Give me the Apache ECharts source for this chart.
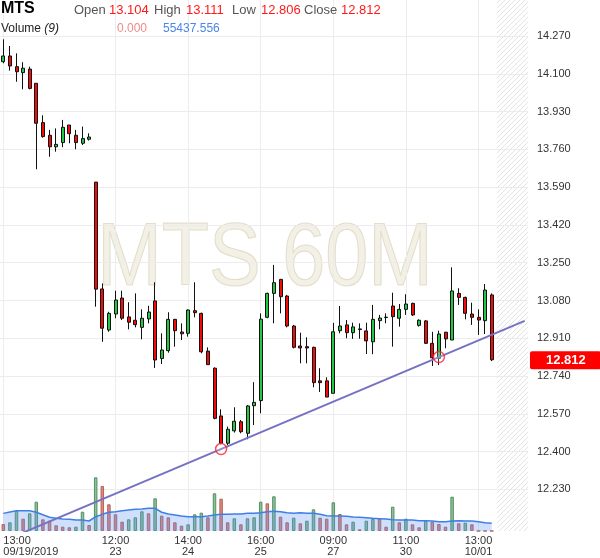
<!DOCTYPE html>
<html><head><meta charset="utf-8">
<script src="https://cdn.jsdelivr.net/npm/echarts@6/dist/echarts.min.js"></script>
<style>html,body{margin:0;padding:0;background:#fff}#c{width:600px;height:558px}</style>
</head><body><div id="c"></div>
<script>
// ---- data ----
const symbolName = 'MTS';
const periodName = '60M';
// trading sessions: [date, first hour, last hour]
const sessions = [['09/19',13,18],['09/20',10,18],['09/23',10,18],['09/24',10,18],['09/25',10,18],['09/26',10,17],['09/27',9,18],['09/30',10,18],['10/01',10,20]];
const tickIdx  = [0, 17, 28, 39, 50, 61, 72];
const tickText = ['13:00\n09/19/2019','12:00\n23','14:00\n24','16:00\n25','09:00\n27','11:00\n30','13:00\n10/01'];
// [open, close, low, high]
const candles = [
[14.154,14.180,14.147,14.255],[14.180,14.135,14.114,14.225],[14.132,14.109,14.064,14.192],[14.105,14.125,14.030,14.152],
[14.121,14.034,14.030,14.132],[14.057,13.877,13.670,14.057],[13.880,13.817,13.812,13.913],[13.823,13.771,13.726,13.847],
[13.771,13.782,13.749,13.854],[13.790,13.859,13.769,13.892],[13.869,13.830,13.787,13.869],[13.823,13.790,13.760,13.847],
[13.787,13.808,13.779,13.862],[13.805,13.815,13.799,13.832],[13.612,13.130,13.051,13.612],[13.131,12.954,12.893,13.156],
[12.946,13.021,12.938,13.028],[13.018,13.081,12.999,13.123],[13.090,12.999,12.991,13.123],[13.005,12.981,12.949,13.071],
[12.990,12.970,12.958,13.111],[12.958,12.999,12.904,13.039],[12.996,13.027,12.976,13.055],[13.077,12.811,12.775,13.161],
[12.818,12.856,12.793,12.931],[12.853,12.994,12.844,13.026],[12.994,12.943,12.871,12.996],[12.937,12.929,12.901,12.976],
[12.931,13.036,12.916,13.039],[13.033,13.024,13.003,13.161],[13.021,12.848,12.841,13.024],[12.851,12.790,12.790,12.868],
[12.774,12.548,12.544,12.778],[12.559,12.436,12.431,12.589],[12.436,12.499,12.428,12.511],[12.492,12.535,12.484,12.598],
[12.533,12.488,12.481,12.541],[12.481,12.604,12.454,12.608],[12.605,12.620,12.518,12.711],[12.628,12.995,12.571,13.021],
[13.003,13.111,12.999,13.114],[13.111,13.159,12.976,13.239],[13.174,13.096,13.021,13.176],[13.099,12.964,12.958,13.104],
[12.964,12.868,12.863,12.969],[12.874,12.865,12.796,12.934],[12.871,12.865,12.796,12.913],[12.868,12.709,12.688,12.871],
[12.717,12.709,12.667,12.774],[12.717,12.644,12.644,12.733],[12.661,12.938,12.661,12.978],[12.943,12.964,12.931,13.054],
[12.969,12.934,12.909,12.991],[12.934,12.960,12.906,12.979],[12.948,12.951,12.907,12.976],[12.942,12.897,12.838,12.979],
[12.893,12.994,12.837,13.059],[12.988,13.000,12.949,13.014],[13.004,13.002,12.976,13.021],[13.054,13.006,12.871,13.114],
[12.999,13.039,12.961,13.063],[13.039,13.063,13.014,13.107],[13.066,13.014,13.009,13.069],[12.967,12.990,12.961,12.994],
[12.987,12.886,12.883,12.991],[12.886,12.821,12.784,12.938],[12.819,12.928,12.788,12.943],[12.936,12.906,12.864,12.938],
[12.901,13.122,12.901,13.228],[13.111,13.093,13.059,13.134],[13.093,13.021,12.994,13.096],[13.018,13.003,12.969,13.069],
[13.003,12.991,12.924,13.039],[12.988,13.126,12.928,13.153],[13.104,12.812,12.806,13.111]];
const lastHigh = 13.111, lastLow = 12.806;
const volume = [50400,62600,146200,88600,127400,211000,84200,74200,41000,31000,26600,31000,139000,43200,386600,324000,
192200,120200,67000,84200,98600,141800,127400,235400,110200,98600,62600,38200,48200,120200,131800,98600,271400,232600,
62600,91400,48200,91400,98600,211000,199400,249800,103000,62600,95800,55400,74200,156200,95800,88600,206600,122400,
48200,67000,12200,74200,86400,88600,31000,175000,62600,88600,48200,26600,74200,67000,50400,31000,247000,55400,59800,48200,0,0,0];
// 1 = up (green) volume bar, 0 = down (red)
const volUp = [0,1,1,0,1,1,0,0,0,0,0,1,1,0,1,0,0,0,0,1,1,1,0,1,0,0,0,0,1,1,1,0,1,0,0,1,0,1,1,1,0,1,0,0,1,0,1,1,0,0,1,0,0,1,0,1,1,0,0,1,0,1,0,0,1,0,0,0,1,0,1,0,0,0,0];
const volMA = [127000,137000,146000,146000,146000,135000,117000,99000,91000,86000,84000,79000,79000,72000,103000,120000,
135000,139000,146000,151000,156000,158000,163000,163000,135000,122000,115000,108000,103000,103000,103000,108000,115000,
120000,120000,122000,122000,127000,127000,132000,139000,142000,139000,132000,127000,132000,127000,127000,120000,110000,
108000,108000,106000,101000,99000,96000,91000,89000,86000,81000,79000,79000,79000,74000,74000,72000,67000,67000,72000,
74000,72000,72000,67000,60000,55437.556];
const trendLine = [[3, 12.0337],[79, 12.987]];
const trendAnchors = [[33, 12.410],[66, 12.824]];
const yTicks = {min: 12.06, step: 0.17};

// ---- build ----
const categories = [];
sessions.forEach(([d,h0,h1]) => { for (let h=h0; h<=h1; h++) categories.push(d+' '+String(h).padStart(2,'0')+':00'); });
const FONT = "'Liberation Sans', Arial, sans-serif";
const last = candles[candles.length-1];
const lastOpen = last[0], lastClose = last[1];
const xData = categories.map((c,i)=> i===0 ? {value:c, textStyle:{align:'left'}} : c);
const upStyle = {color:'rgba(118,184,132,0.85)', borderColor:'rgba(82,138,98,0.95)', borderWidth:1};
const dnStyle = {color:'rgba(228,112,98,0.85)', borderColor:'rgba(168,98,90,0.95)', borderWidth:1};

const chart = echarts.init(document.getElementById('c'), null, {renderer:'canvas'});
const option = {
  animation: false,
  backgroundColor: '#fff',
  textStyle: {fontFamily: FONT},
  grid: [
    {left:-2, width:530, top:0, height:531},
    {left:-2, width:530, top:431, height:100},
    {left:-2, width:530, top:0, height:527.25}
  ],
  xAxis: [
    {type:'category', gridIndex:0, data:xData, boundaryGap:true,
     axisLine:{show:false}, axisTick:{show:false}, splitLine:{show:false},
     axisLabel:{interval:(i)=>tickIdx.includes(i), formatter:(v,i)=>tickText[tickIdx.indexOf(i)] || '',
       fontSize:11, lineHeight:11, color:'#333', margin:4, fontFamily:FONT}},
    {type:'category', gridIndex:1, data:categories, show:false},
    {type:'category', gridIndex:2, data:categories, show:false}
  ],
  yAxis: [
    {type:'value', gridIndex:0, min:12.0409, max:14.4321, show:false},
    {type:'value', gridIndex:1, min:0, max:720000, show:false},
    {type:'value', gridIndex:2, min:yTicks.min, max:14.4321, interval:yTicks.step, position:'right',
     axisLine:{show:false}, axisTick:{show:false},
     axisLabel:{showMinLabel:false, showMaxLabel:false, formatter:v=>v.toFixed(3), fontSize:11, color:'#333', margin:9, fontFamily:FONT},
     splitLine:{show:true, showMinLine:false, showMaxLine:false, lineStyle:{color:'#ececec', width:1}}}
  ],
  series: [
    {type:'candlestick', xAxisIndex:0, yAxisIndex:0, data:candles, barWidth:3.5, z:3,
     itemStyle:{color:'#22c744', color0:'#f50a0a', borderColor:'#111', borderColor0:'#111', borderWidth:1},
     markLine:{silent:true, z:1, symbol:['none','none'], label:{show:false}, animation:false,
       lineStyle:{color:'#ececec', width:1, type:'solid'},
       emphasis:{disabled:true},
       data: tickIdx.map(i=>({xAxis: categories[i]}))}},
    {type:'bar', xAxisIndex:1, yAxisIndex:1, barWidth:3.5, z:2,
     data: volume.map((v,i)=>({value:v, itemStyle: volUp[i] ? upStyle : dnStyle}))},
    {type:'line', xAxisIndex:1, yAxisIndex:1, data:volMA, symbol:'none', z:4,
     lineStyle:{color:'#3f7ee8', width:1.5}, areaStyle:{color:'rgba(95,145,240,0.42)'}},
    {type:'line', xAxisIndex:0, yAxisIndex:0, data:trendLine, symbol:'none', z:6,
     lineStyle:{color:'#7572c3', width:2},
     markLine:{silent:true, z:10, symbol:['none','none'], animation:false,
       lineStyle:{width:0, color:'rgba(0,0,0,0)'},
       label:{show:true, position:'end', distance:2, formatter: lastClose.toFixed(3), color:'#fff', fontWeight:'bold',
         fontSize:13, fontFamily:FONT, backgroundColor:'#ff0000', padding:[3,15,2,16], borderRadius:2},
       data:[{yAxis:lastClose}]}},
    {type:'scatter', xAxisIndex:0, yAxisIndex:0, data:trendAnchors, symbol:'circle', symbolSize:11, z:7,
     itemStyle:{color:'rgba(255,255,255,0.25)', borderColor:'#f23', borderWidth:1.5}}
  ],
  graphic: [
    {type:'text', x:265, y:260, z:0, scaleX:0.87, silent:true,
     style:{text: symbolName+' '+periodName, font:"89px 'Liberation Sans', Arial", fill:'rgba(226,218,192,0.4)',
       stroke:'rgba(196,184,150,0.45)', lineWidth:1.2, align:'center', verticalAlign:'middle'}},
    {type:'text', x:1, y:9, z:20, style:{text:symbolName, font:"bold 16px 'Liberation Sans', Arial", fill:'#000', verticalAlign:'middle'}},
    {type:'text', x:74, y:10, z:20, style:{text:'Open', font:"13px 'Liberation Sans', Arial", fill:'#555', verticalAlign:'middle'}},
    {type:'text', x:109, y:10, z:20, style:{text:lastOpen.toFixed(3), font:"13px 'Liberation Sans', Arial", fill:'#ff1a1a', verticalAlign:'middle'}},
    {type:'text', x:154, y:10, z:20, style:{text:'High', font:"13px 'Liberation Sans', Arial", fill:'#555', verticalAlign:'middle'}},
    {type:'text', x:186, y:10, z:20, style:{text:lastHigh.toFixed(3), font:"13px 'Liberation Sans', Arial", fill:'#ff1a1a', verticalAlign:'middle'}},
    {type:'text', x:232, y:10, z:20, style:{text:'Low', font:"13px 'Liberation Sans', Arial", fill:'#555', verticalAlign:'middle'}},
    {type:'text', x:261, y:10, z:20, style:{text:lastLow.toFixed(3), font:"13px 'Liberation Sans', Arial", fill:'#ff1a1a', verticalAlign:'middle'}},
    {type:'text', x:304, y:10, z:20, style:{text:'Close', font:"13px 'Liberation Sans', Arial", fill:'#555', verticalAlign:'middle'}},
    {type:'text', x:341, y:10, z:20, style:{text:lastClose.toFixed(3), font:"13px 'Liberation Sans', Arial", fill:'#ff1a1a', verticalAlign:'middle'}},
    {type:'text', x:1, y:29, z:20, style:{text:'{a|Volume} {b|(9)}', verticalAlign:'middle',
       rich:{a:{fontSize:12, fontFamily:FONT, fill:'#222'}, b:{fontSize:12, fontFamily:FONT, fontStyle:'italic', fill:'#222'}}}},
    {type:'text', x:117, y:29, z:20, style:{text:volume[volume.length-1].toFixed(3), font:"12px 'Liberation Sans', Arial", fill:'#f08a8a', verticalAlign:'middle'}},
    {type:'text', x:163, y:29, z:20, style:{text:volMA[volMA.length-1].toFixed(3), font:"12px 'Liberation Sans', Arial", fill:'#4a86e8', verticalAlign:'middle'}}
  ]
};
chart.setOption(option);

// hatched "future" area right of the last bar
const pc = document.createElement('canvas'); pc.width = 5; pc.height = 5;
const g = pc.getContext('2d'); g.strokeStyle = '#e3e3e3'; g.lineWidth = 1;
g.beginPath(); g.moveTo(0,5); g.lineTo(5,0); g.moveTo(-1,1); g.lineTo(1,-1); g.moveTo(4,6); g.lineTo(6,4); g.stroke();
const xStart = chart.convertToPixel({xAxisIndex:0}, candles.length) - 1.5;
const xEnd = chart.convertToPixel({xAxisIndex:0}, categories.length-1) + 3.3;
const yBottom = chart.convertToPixel({yAxisIndex:1}, 0);
const g2 = option.graphic.slice();
g2.push({type:'rect', z:-1, silent:true, shape:{x:xStart, y:0, width:xEnd-xStart, height:yBottom},
  style:{fill:{image:pc, repeat:'repeat'}}});
chart.setOption({graphic: g2});
</script></body></html>
